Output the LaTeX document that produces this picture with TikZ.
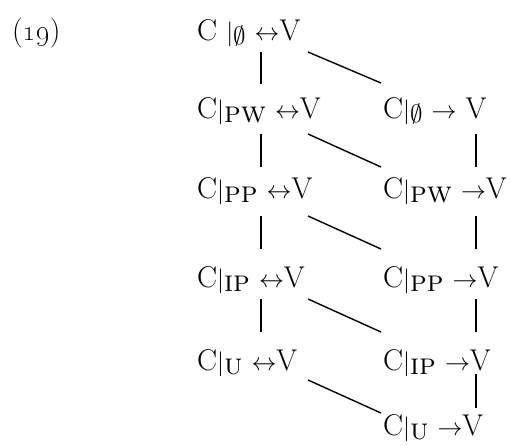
\documentclass[tikz,border=0pt]{standalone}
\usetikzlibrary{positioning}
\newcommand{\lvl}[1]{\raisebox{-0.14em}{\textsc{#1}}}
\begin{document}
\begin{tikzpicture}[
  x=1pt, y=-1pt,
  term/.style={anchor=base west, inner sep=0pt, font=\fontsize{30}{35}\selectfont},
  link/.style={line width=1.4pt}
]
  \useasboundingbox (0,0) rectangle (510,445);

  % example number
  \node[term] (num) at (12,40) {(\oldstylenums{19})};

  % left column (biconditional)
  \node[term] (bi0)  at (197,40)  {C $|$\lvl{$\emptyset$} $\leftrightarrow$V};
  \node[term] (bipw) at (197,118) {C$|$\lvl{pw} $\leftrightarrow$V};
  \node[term] (bipp) at (197,198) {C$|$\lvl{pp} $\leftrightarrow$V};
  \node[term] (biip) at (197,287) {C$|$\lvl{ip} $\leftrightarrow$V};
  \node[term] (biu)  at (197,370) {C$|$\lvl{u} $\leftrightarrow$V};

  % right column (conditional)
  \node[term] (co0)  at (383,118) {C$|$\lvl{$\emptyset$} $\rightarrow$ V};
  \node[term] (copw) at (383,198) {C$|$\lvl{pw} $\rightarrow$V};
  \node[term] (copp) at (383,287) {C$|$\lvl{pp} $\rightarrow$V};
  \node[term] (coip) at (383,370) {C$|$\lvl{ip} $\rightarrow$V};
  \node[term] (cou)  at (383,435) {C$|$\lvl{u} $\rightarrow$V};

  % vertical links, left
  \draw[link] ([xshift=64pt,yshift=-12pt]bi0.base west)  -- ([xshift=64pt,yshift=34pt]bipw.base west);
  \draw[link] ([xshift=64pt,yshift=-16pt]bipw.base west) -- ([xshift=64pt,yshift=31pt]bipp.base west);
  \draw[link] ([xshift=64pt,yshift=-18pt]bipp.base west) -- ([xshift=64pt,yshift=38pt]biip.base west);
  \draw[link] ([xshift=64pt,yshift=-12pt]biip.base west) -- ([xshift=64pt,yshift=38pt]biu.base west);

  % vertical links, right
  \draw[link] ([xshift=93pt,yshift=-16pt]co0.base west)  -- ([xshift=93pt,yshift=31pt]copw.base west);
  \draw[link] ([xshift=93pt,yshift=-18pt]copw.base west) -- ([xshift=93pt,yshift=38pt]copp.base west);
  \draw[link] ([xshift=93pt,yshift=-12pt]copp.base west) -- ([xshift=93pt,yshift=38pt]coip.base west);
  \draw[link] ([xshift=93pt,yshift=-4pt]coip.base west)  -- ([xshift=93pt,yshift=27pt]cou.base west);

  % diagonal links
  \draw[link] ([xshift=111pt,yshift=-12pt]bi0.base west)  -- ([xshift=-2pt,yshift=35pt]co0.base west);
  \draw[link] ([xshift=111pt,yshift=-16pt]bipw.base west) -- ([xshift=-2pt,yshift=31pt]copw.base west);
  \draw[link] ([xshift=111pt,yshift=-18pt]bipp.base west) -- ([xshift=-2pt,yshift=38pt]copp.base west);
  \draw[link] ([xshift=111pt,yshift=-12pt]biip.base west) -- ([xshift=-2pt,yshift=38pt]coip.base west);
  \draw[link] ([xshift=111pt,yshift=-10pt]biu.base west)  -- ([xshift=-2pt,yshift=22pt]cou.base west);
\end{tikzpicture}
\end{document}
